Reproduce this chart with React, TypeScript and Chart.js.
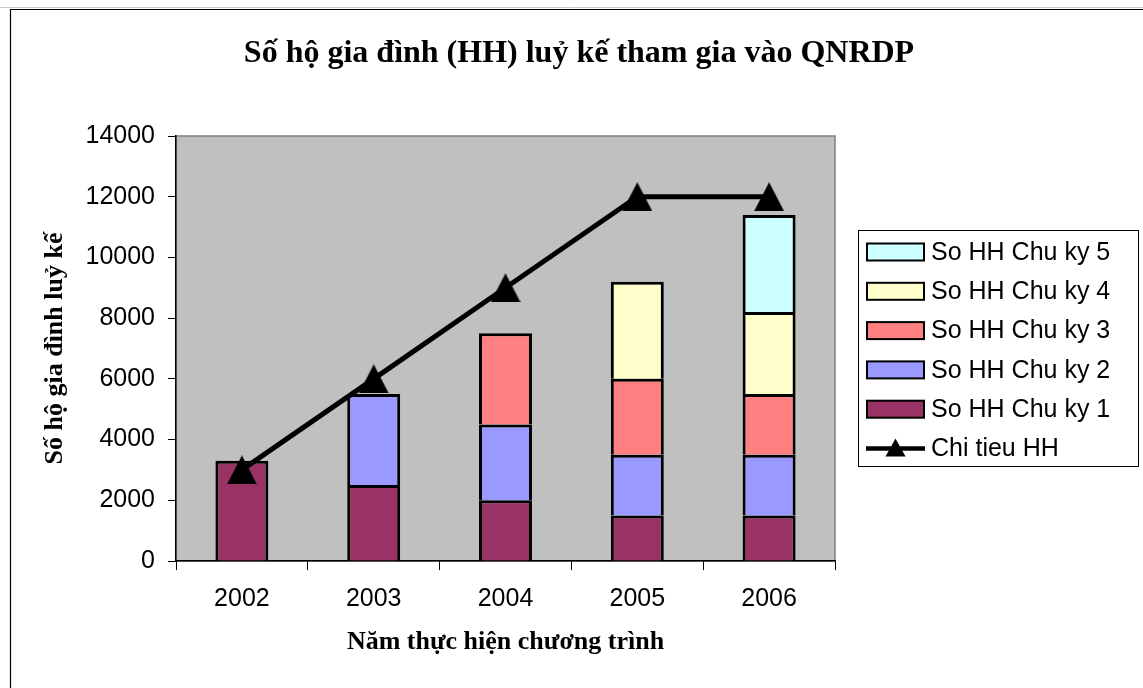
import React, { useEffect, useRef } from "react";
import { Chart, registerables } from "chart.js";

Chart.register(...registerables);

const years = ["2002", "2003", "2004", "2005", "2006"];
const cycle1 = [3300, 2500, 2000, 1500, 1500];
const cycle2 = [0, 3000, 2500, 2000, 2000];
const cycle3 = [0, 0, 3000, 2500, 2000];
const cycle4 = [0, 0, 0, 3200, 2700];
const cycle5 = [0, 0, 0, 0, 3200];
const target = [3000, 6000, 9000, 12000, 12000];

const seriesLabels = [
  "So HH Chu ky 1",
  "So HH Chu ky 2",
  "So HH Chu ky 3",
  "So HH Chu ky 4",
  "So HH Chu ky 5",
];
const seriesColors = ["#993366", "#9999FF", "#FF8080", "#FFFFCC", "#CCFFFF"];
const lineLabel = "Chi tieu HH";

const titleText = "Số hộ gia đình (HH) luỷ kế tham gia vào QNRDP";
const yTitle = "Số hộ gia đình luỷ kế";
const xTitle = "Năm thực hiện chương trình";

const SANS = "Arial, 'Liberation Sans', sans-serif";
const SERIF = "'Times New Roman', 'Liberation Serif', serif";

function makeTriangle(w: number, h: number) {
  const c = document.createElement("canvas");
  c.width = w;
  c.height = h;
  const g = c.getContext("2d")!;
  g.fillStyle = "#000";
  g.beginPath();
  g.moveTo(w / 2, 0);
  g.lineTo(w, h);
  g.lineTo(0, h);
  g.closePath();
  g.fill();
  return c;
}

const decorPlugin = {
  id: "decor",
  beforeDraw(chart: any) {
    const { ctx, chartArea } = chart;
    ctx.save();
    ctx.fillStyle = "#ffffff";
    ctx.fillRect(0, 0, chart.width, chart.height);
    ctx.strokeStyle = "#c8c8c8";
    ctx.lineWidth = 1;
    ctx.beginPath();
    ctx.moveTo(0, 7.5);
    ctx.lineTo(chart.width, 7.5);
    ctx.stroke();
    ctx.strokeStyle = "#000000";
    ctx.lineWidth = 1.2;
    ctx.beginPath();
    ctx.moveTo(10.5, chart.height);
    ctx.lineTo(10.5, 9.5);
    ctx.lineTo(chart.width, 9.5);
    ctx.stroke();
    ctx.fillStyle = "#C0C0C0";
    ctx.fillRect(chartArea.left, chartArea.top, chartArea.right - chartArea.left, chartArea.bottom - chartArea.top);
    ctx.strokeStyle = "#808080";
    ctx.lineWidth = 1.5;
    ctx.strokeRect(chartArea.left, chartArea.top, chartArea.right - chartArea.left, chartArea.bottom - chartArea.top);
    ctx.fillStyle = "#000";
    ctx.font = `bold 32px ${SERIF}`;
    ctx.textAlign = "center";
    ctx.textBaseline = "alphabetic";
    ctx.fillText(titleText, 579, 62);
    ctx.restore();
  },
  afterDraw(chart: any) {
    const { ctx } = chart;
    const ds = chart.data.datasets;
    const bars = ds.filter((d: any) => d.type !== "line").slice().reverse();
    const lines = ds.filter((d: any) => d.type === "line");
    const items = [...bars, ...lines];
    const L = 858.5, T = 230.5, R = 1138.5, B = 466.5;
    ctx.save();
    ctx.fillStyle = "#fff";
    ctx.fillRect(L, T, R - L, B - T);
    ctx.strokeStyle = "#000";
    ctx.lineWidth = 1;
    ctx.strokeRect(L, T, R - L, B - T);
    ctx.font = `25px ${SANS}`;
    ctx.textAlign = "left";
    ctx.textBaseline = "middle";
    items.forEach((d: any, i: number) => {
      const cy = 252 + i * 39.3;
      if (d.type === "line") {
        ctx.strokeStyle = "#000";
        ctx.lineWidth = 4.5;
        ctx.beginPath();
        ctx.moveTo(866, cy);
        ctx.lineTo(925, cy);
        ctx.stroke();
        ctx.fillStyle = "#000";
        ctx.beginPath();
        ctx.moveTo(895.5, cy - 10);
        ctx.lineTo(905.5, cy + 8);
        ctx.lineTo(885.5, cy + 8);
        ctx.closePath();
        ctx.fill();
      } else {
        ctx.fillStyle = d.backgroundColor;
        ctx.fillRect(867, cy - 8.5, 57, 17);
        ctx.strokeStyle = "#000";
        ctx.lineWidth = 2;
        ctx.strokeRect(867, cy - 8.5, 57, 17);
      }
      ctx.fillStyle = "#000";
      ctx.fillText(d.label, 931, cy + 1);
    });
    ctx.restore();
  },
};

export default function App() {
  const ref = useRef<HTMLCanvasElement | null>(null);
  useEffect(() => {
    if (!ref.current) return;
    const marker = makeTriangle(30, 29);
    const cycles = [cycle1, cycle2, cycle3, cycle4, cycle5];
    const barSets = cycles.map((vals, i) => ({
      type: "bar" as const,
      label: seriesLabels[i],
      data: vals,
      backgroundColor: seriesColors[i],
      borderColor: "#000000",
      borderWidth: { top: 3, left: 3, right: 3, bottom: 0 },
      borderSkipped: false,
      inflateAmount: 0,
      barPercentage: 0.402,
      categoryPercentage: 1,
      stack: "hh",
      order: 1,
    }));
    const chart = new Chart(ref.current, {
      type: "bar",
      data: {
        labels: years,
        datasets: [
          {
            type: "line" as const,
            label: lineLabel,
            data: target,
            borderColor: "#000000",
            backgroundColor: "#000000",
            borderWidth: 5,
            pointStyle: marker,
            pointRadius: 15,
            pointBorderWidth: 0,
            pointBackgroundColor: "#000000",
            stack: "line",
            order: 0,
            tension: 0,
          } as any,
          ...barSets,
        ],
      },
      options: {
        animation: false,
        responsive: false,
        devicePixelRatio: 1,
        layout: { padding: { left: 0, top: 136, right: 308, bottom: 0 } },
        plugins: {
          legend: { display: false },
          title: { display: false },
          tooltip: { enabled: false },
        },
        scales: {
          x: {
            stacked: true,
            offset: true,
            grid: {
              display: true,
              offset: true,
              drawOnChartArea: false,
              drawTicks: true,
              tickLength: 9,
              color: "#000",
              lineWidth: 1,
            },
            border: { display: true, color: "#000", width: 1.5 },
            ticks: {
              color: "#000",
              font: { family: SANS, size: 25 },
              padding: 14,
              maxRotation: 0,
            },
            title: {
              display: true,
              text: xTitle,
              color: "#000",
              font: { family: SERIF, size: 26, weight: "bold" },
              padding: { top: 0, bottom: 30 },
            },
            afterFit: (s: any) => {
              s.height = 127;
            },
          },
          y: {
            stacked: true,
            min: 0,
            max: 14000,
            grid: {
              display: true,
              drawOnChartArea: false,
              drawTicks: true,
              tickLength: 8,
              color: "#000",
              lineWidth: 1,
            },
            border: { display: true, color: "#000", width: 1.5 },
            ticks: {
              stepSize: 2000,
              color: "#000",
              font: { family: SANS, size: 25 },
              padding: 13,
              callback: (v: any) => String(v),
            },
            title: {
              display: true,
              text: yTitle,
              color: "#000",
              font: { family: SERIF, size: 26, weight: "bold" },
              padding: { top: 40, bottom: 0 },
            },
            afterFit: (s: any) => {
              s.width = 176;
            },
          },
        },
      },
      plugins: [decorPlugin],
    });
    return () => chart.destroy();
  }, []);
  return (
    <div style={{ position: "fixed", left: 0, top: 0, width: 1143, height: 688, background: "#fff" }}>
      <canvas ref={ref} width={1143} height={688} style={{ display: "block", width: 1143, height: 688 }} />
    </div>
  );
}
